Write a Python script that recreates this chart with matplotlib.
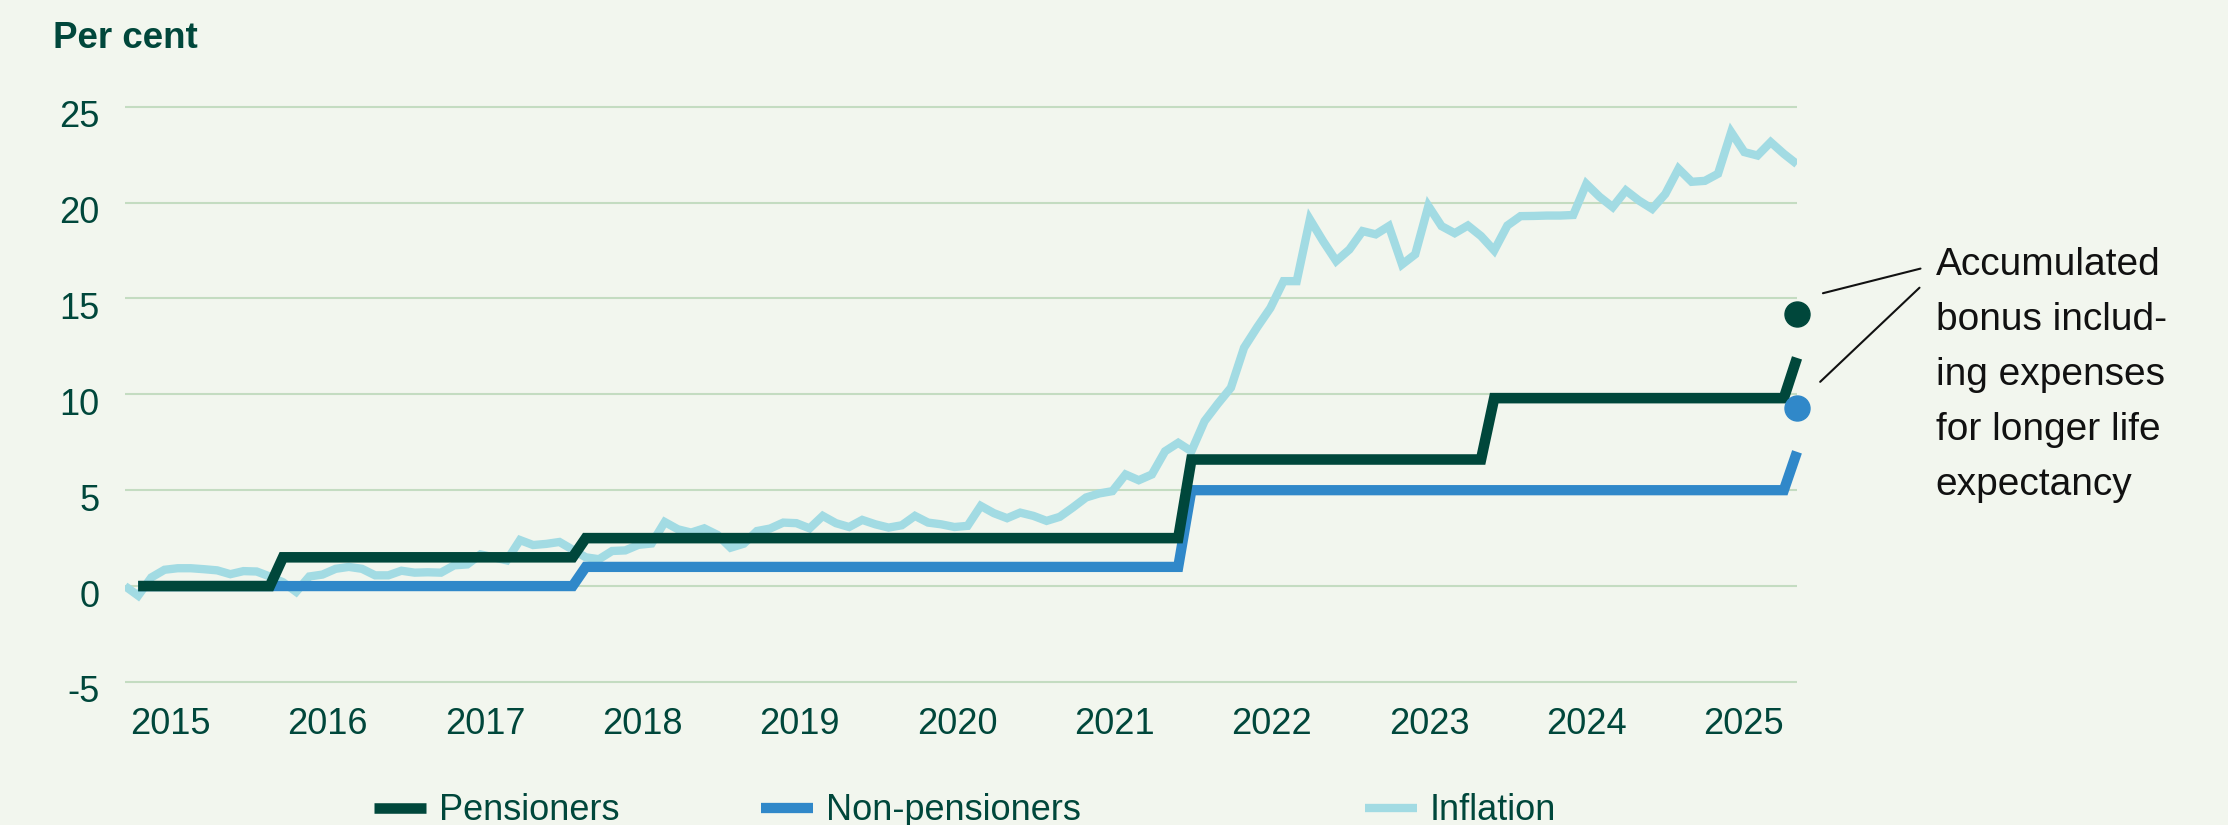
import matplotlib
matplotlib.use("Agg")
import matplotlib.pyplot as plt
import matplotlib.transforms as mtransforms

plt.rcParams['font.family'] = ['Liberation Sans', 'DejaVu Sans']

BG = '#f2f6ee'
DARK = '#00473b'
BLUE = '#3088c9'
LIGHT = '#a2dbe3'
GRID = '#c4dcc1'
TEXT = '#00473b'

# x axis: months counted from January 2015 (inflation series starts one month earlier)
infl_months = list(range(-1, 127))
inflation = [
    0.0, -0.5, 0.45, 0.85, 0.93, 0.93, 0.88, 0.82, 0.62, 0.78, 0.76, 0.5, 0.2,
    -0.3, 0.5, 0.6, 0.9, 1.0, 0.9, 0.56, 0.56, 0.8, 0.7, 0.72, 0.7,
    1.08, 1.13, 1.65, 1.5, 1.34, 2.4, 2.14, 2.2, 2.3, 1.9, 1.5, 1.4,
    1.83, 1.86, 2.15, 2.22, 3.34, 2.96, 2.79, 3.01, 2.67, 2.0, 2.21, 2.87,
    3.0, 3.31, 3.28, 3.01, 3.66, 3.28, 3.08, 3.45, 3.22, 3.05, 3.17, 3.66,
    3.31, 3.22, 3.08, 3.14, 4.18, 3.8, 3.54, 3.83, 3.66, 3.4, 3.61, 4.1,
    4.62, 4.83, 4.95, 5.82, 5.52, 5.82, 7.03, 7.47, 7.03, 8.6, 9.5, 10.34,
    12.43, 13.5, 14.5, 15.9, 15.9, 19.12, 17.99, 16.95, 17.55, 18.51, 18.34, 18.77,
    16.77, 17.3, 19.82, 18.77, 18.4, 18.8, 18.25, 17.5, 18.8, 19.29, 19.3, 19.32,
    19.32, 19.35, 20.97, 20.3, 19.76, 20.63, 20.1, 19.67, 20.45, 21.76, 21.08, 21.13,
    21.5, 23.67, 22.63, 22.45, 23.15, 22.54, 22.0,
]

pens_months = [0, 10, 11, 33, 34, 79, 80, 102, 103, 125, 126]
pensioners = [0, 0, 1.5, 1.5, 2.5, 2.5, 6.6, 6.6, 9.8, 9.8, 11.9]

nonpens_months = [0, 33, 34, 79, 80, 125, 126]
non_pensioners = [0, 0, 1.0, 1.0, 5.0, 5.0, 7.0]

bonus_month = 126
bonus_pensioners = 14.2
bonus_non_pensioners = 9.3

years = list(range(2015, 2026))
year_ticks = [2.45 + 11.95 * i for i in range(len(years))]
y_ticks = [-5, 0, 5, 10, 15, 20, 25]

W, H = 2228, 825
fig = plt.figure(figsize=(W / 100, H / 100), dpi=100, facecolor=BG)
ax = fig.add_axes([125 / W, 139.2 / H, 1672 / W, 583 / H])
ax.set_facecolor(BG)

l_inf, = ax.plot(infl_months, inflation, color=LIGHT, lw=6,
                 solid_joinstyle='miter', solid_capstyle='butt', label='Inflation', zorder=2)
l_non, = ax.plot(nonpens_months, non_pensioners, color=BLUE, lw=7.4,
                 solid_joinstyle='miter', solid_capstyle='butt', label='Non-pensioners',
                 zorder=3, clip_on=False)
l_pen, = ax.plot(pens_months, pensioners, color=DARK, lw=7.6,
                 solid_joinstyle='miter', solid_capstyle='butt', label='Pensioners',
                 zorder=4, clip_on=False)
ax.plot([bonus_month], [bonus_pensioners], 'o', color=DARK, ms=18, clip_on=False, zorder=5)
ax.plot([bonus_month], [bonus_non_pensioners], 'o', color=BLUE, ms=18, clip_on=False, zorder=5)

ax.set_xlim(-1, 126)
ax.set_ylim(-5.2, 25.2)
ax.set_yticks(y_ticks)
ax.set_yticklabels([str(v) for v in y_ticks])
ax.set_xticks(year_ticks)
ax.set_xticklabels([str(y) for y in years])
ax.tick_params(length=0, labelsize=26, colors=TEXT)
ax.tick_params(axis='y', pad=18.5)
ax.tick_params(axis='x', pad=15)
ax.yaxis.grid(True, color=GRID, lw=1.5, zorder=0)
ax.set_axisbelow(True)
for s in ax.spines.values():
    s.set_visible(False)

shift = mtransforms.ScaledTranslation(0, -7 / 100, fig.dpi_scale_trans)
for lab in ax.get_yticklabels():
    lab.set_transform(lab.get_transform() + shift)

fig.text(52.6 / W, 1 - 48.3 / H, 'Per cent', fontsize=26.5, fontweight='bold',
         color=TEXT, va='baseline', ha='left')

for handle, xpos in [(l_pen, 374), (l_non, 761), (l_inf, 1365)]:
    fig.legend(handles=[handle], loc='center left', bbox_to_anchor=(xpos / W, 1 - 811 / H),
               frameon=False, fontsize=26, handlelength=1.45, handletextpad=0.35,
               borderpad=0, borderaxespad=0, labelcolor=TEXT)

fig.text(1935.7 / W, 1 - 246.7 / H,
         'Accumulated\nbonus includ-\ning expenses\nfor longer life\nexpectancy',
         fontsize=28, color='#111111', va='top', ha='left', linespacing=1.68)

for xy_data, xy_fig in [((127.97, 15.27), (1920.5 / W, 1 - 268.6 / H)),
                        ((127.76, 10.65), (1919.5 / W, 1 - 287.7 / H))]:
    ax.annotate('', xy=xy_data, xytext=xy_fig, textcoords='figure fraction',
                arrowprops=dict(arrowstyle='-', lw=1.5, color='#111111',
                                shrinkA=0, shrinkB=0),
                annotation_clip=False)

fig.savefig('out.png', dpi=100, facecolor=BG)
